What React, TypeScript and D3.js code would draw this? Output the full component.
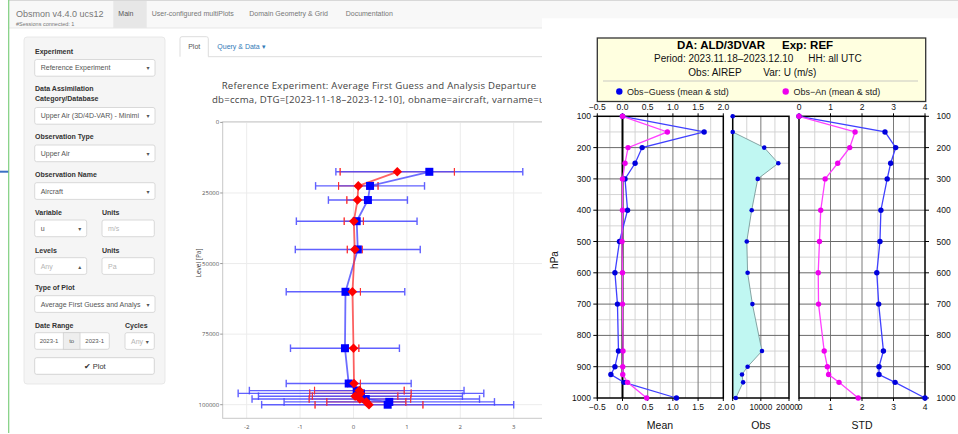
import React from 'react';
import * as d3 from 'd3';

// ---------------- Left (web app / plotly-style) chart data ----------------
const levelsPa = [17500, 22500, 27500, 35000, 45000, 60000, 80000, 92500, 95000, 96000, 97000, 98000, 99000, 100000];
const fgMean = [1.42, 0.31, 0.27, 0.06, 0.08, -0.15, -0.16, -0.09, 0.06, 0.14, 0.13, 0.23, 0.67, 0.64];
const fgStd = [1.75, 1.02, 0.74, 1.13, 1.17, 1.11, 1.02, 1.17, 2.01, 2.3, 1.91, 2.13, 1.97, 2.36];
const anMean = [0.82, 0.09, 0.075, 0.006, 0.024, -0.02, 0.0, 0.01, 0.11, 0.13, 0.03, 0.12, 0.24, 0.29];
const anStd = [1.07, 0.37, 0.2, 0.18, 0.14, 0.15, 0.1, 0.12, 0.84, 0.95, 0.8, 0.95, 0.74, 1.01];
const leftXTicks = [-2, -1, 0, 1, 2, 3];
const leftYTicks = [0, 25000, 50000, 75000, 100000];
const titleLine1 = 'Reference Experiment: Average First Guess and Analysis Departure';
const titleLine2 = 'db=ccma, DTG=[2023-11-18\u20132023-12-10], obname=aircraft, varname=u';

// ---------------- Right (R-style) chart data ----------------
const pLevels = [100, 150, 200, 250, 300, 400, 500, 600, 700, 850, 900, 925, 950, 1000];
const guessMean = [0, 1.62, 0.39, 0.25, 0.05, 0.1, -0.06, -0.15, -0.1, -0.08, -0.15, -0.23, 0.03, 1.07];
const anMeanR = [0, 0.89, 0.11, 0.05, 0.0, 0.0, -0.01, 0.0, 0.0, 0.01, 0.005, 0.005, 0.1, 0.48];
const obsCount = [0, 0, 11200, 16200, 8900, 6750, 5000, 5300, 7000, 10400, 5300, 3300, 3700, 1100];
const guessStd = [0, 2.73, 3.07, 2.91, 2.8, 2.6, 2.57, 2.47, 2.53, 2.68, 2.54, 2.54, 3.05, 4.0];
const anStdR = [0, 1.78, 1.61, 1.23, 0.83, 0.69, 0.65, 0.61, 0.62, 0.8, 0.9, 0.94, 1.27, 1.88];
const meanTicks = [-0.5, 0, 0.5, 1, 1.5, 2];
const obsTicks = [0, 10000, 20000];
const stdTicks = [0, 1, 2, 3, 4];
const hpaTicks = [100, 200, 300, 400, 500, 600, 700, 800, 900, 1000];

// ---------------- Sidebar / navbar text ----------------
const navTabs = ['Main', 'User-configured multiPlots', 'Domain Geometry & Grid', 'Documentation'];

const SANS = '"Liberation Sans", Arial, Helvetica, sans-serif';
const OPEN = '"Open Sans", verdana, arial, sans-serif';

function Select({ x, y, w, text, color = '#555', caret = '\u25BE' }: any) {
  return (
    <g>
      <rect x={x} y={y} width={w} height={16.7} rx={2} fill="#fff" stroke="#d0d0d0" strokeWidth={0.8} />
      <text x={x + 6} y={y + 10.8} fontSize={7} fill={color} fontFamily={SANS}>{text}</text>
      {caret && <text x={x + w - 8.5} y={y + 10.8} fontSize={6} fill="#555" fontFamily="DejaVu Sans">{caret}</text>}
    </g>
  );
}

function Label({ x, y, text }: any) {
  return <text x={x} y={y + 2.5} fontSize={7} fontWeight="bold" fill="#333" fontFamily={SANS}>{text}</text>;
}

export default function App() {
  // left chart scales
  const xL = d3.scaleLinear().domain([-2, 3]).range([246.7, 513.7]);
  const yL = d3.scaleLinear().domain([0, 100000]).range([122.4, 404.7]);
  const pL = { x0: 222.7, x1: 640, y0: 121.8, y1: 418.3 };
  const rowsL = levelsPa.map((p, i) => ({ p, fm: fgMean[i], fs: fgStd[i], am: anMean[i], as: anStd[i] }));
  const lineFg = d3.line<any>().x((d) => xL(d.fm)).y((d) => yL(d.p));
  const lineAn = d3.line<any>().x((d) => xL(d.am)).y((d) => yL(d.p));

  // right chart scales
  const yP = d3.scaleLinear().domain([100, 1000]).range([116.3, 398]);
  const xM = d3.scaleLinear().domain([-0.5, 2]).range([597.3, 723.3]);
  const xO = d3.scaleLinear().domain([0, 20000]).range([732.7, 789]);
  const xS = d3.scaleLinear().domain([0, 4]).range([799, 925]);
  const rowsR = pLevels.map((p, i) => ({ p, gm: guessMean[i], am: anMeanR[i], n: obsCount[i], gs: guessStd[i], as: anStdR[i] }));
  const y0 = yP(100), y1 = yP(1000);
  const minorH = d3.range(150, 1000, 100);
  const majorH = d3.range(200, 1000, 100);
  const fmt1 = d3.format('.1f');

  const gridPanel = (xs: any, minorV: number[], majorV: number[]) => {
    const [a, b] = xs.range();
    return (
      <g>
        {minorV.map((v) => <line key={'mv' + v} x1={xs(v)} x2={xs(v)} y1={y0} y2={y1} stroke="#cfcfcf" strokeWidth={0.9} />)}
        {minorH.map((v) => <line key={'mh' + v} x1={a} x2={b} y1={yP(v)} y2={yP(v)} stroke="#cfcfcf" strokeWidth={0.9} />)}
        {majorV.map((v) => <line key={'Mv' + v} x1={xs(v)} x2={xs(v)} y1={y0} y2={y1} stroke="#7a7a7a" strokeWidth={1} />)}
        {majorH.map((v) => <line key={'Mh' + v} x1={a} x2={b} y1={yP(v)} y2={yP(v)} stroke="#6a6a6a" strokeWidth={1} />)}
      </g>
    );
  };

  const lineR = (xs: any, key: string) => d3.line<any>().x((d) => xs(d[key])).y((d) => yP(d.p));
  const obsArea = d3.area<any>().x0(() => xO(0)).x1((d) => xO(d.n)).y((d) => yP(d.p));
  const obsLine = d3.line<any>().x((d) => xO(d.n)).y((d) => yP(d.p));

  const diamond = (cx: number, cy: number, r: number) => `M${cx},${cy - r}L${cx + r},${cy}L${cx},${cy + r}L${cx - r},${cy}Z`;

  return (
    <svg width={958} height={434} style={{ position: 'fixed', left: 0, top: 0 }} xmlns="http://www.w3.org/2000/svg">
      <rect x={0} y={0} width={958} height={434} fill="#fff" />

      {/* ---------- navbar ---------- */}
      <rect x={9} y={0} width={949} height={28} fill="#f8f8f8" />
      <line x1={9} x2={958} y1={0.5} y2={0.5} stroke="#d8d8d8" />
      <line x1={9} x2={958} y1={28} y2={28} stroke="#e7e7e7" />
      <rect x={113.3} y={1} width={33.4} height={27} fill="#e7e7e7" />
      <text x={16} y={16.5} fontSize={9} fill="#777" fontFamily={SANS}>Obsmon v4.4.0 ucs12</text>
      <text x={16} y={25.5} fontSize={5.5} fill="#777" fontFamily={SANS}>#Sessions connected: 1</text>
      {navTabs.map((t, i) => (
        <text key={t} x={[118.3, 151.7, 249.3, 345.7][i]} y={16} fontSize={7} fill={i === 0 ? '#555' : '#777'} fontFamily={SANS}>{t}</text>
      ))}
      <line x1={8.7} x2={8.7} y1={0} y2={433} stroke="#7fcf7f" strokeWidth={1.2} />
      <line x1={0} x2={8.3} y1={171.7} y2={171.7} stroke="#3a70c4" strokeWidth={2} />

      {/* ---------- sidebar well ---------- */}
      <rect x={24} y={37} width={141} height={347} rx={3} fill="#f5f5f5" stroke="#e3e3e3" strokeWidth={0.8} />
      <Label x={35} y={51.5} text="Experiment" />
      <Select x={34.7} y={59.5} w={120.3} text="Reference Experiment" />
      <Label x={35} y={88.8} text="Data Assimilation" />
      <Label x={35} y={98.8} text="Category/Database" />
      <Select x={34.7} y={107.5} w={120.3} text="Upper Air (3D/4D-VAR) - Minimi" />
      <Label x={35} y={136.7} text="Observation Type" />
      <Select x={34.7} y={145} w={120.3} text="Upper Air" />
      <Label x={35} y={174.3} text="Observation Name" />
      <Select x={34.7} y={182.7} w={120.3} text="Aircraft" />
      <Label x={35} y={212} text="Variable" />
      <Label x={102} y={212} text="Units" />
      <Select x={34.7} y={220} w={52} text="u" />
      <Select x={102} y={220} w={52.3} text="m/s" color="#b5b5b5" caret="" />
      <Label x={35} y={250} text="Levels" />
      <Label x={102} y={250} text="Units" />
      <Select x={34.7} y={257.7} w={52} text="Any" color="#b5b5b5" caret={'\u25B4'} />
      <Select x={102} y={257.7} w={52.3} text="Pa" color="#b5b5b5" caret="" />
      <Label x={35} y={287.7} text="Type of Plot" />
      <Select x={34.7} y={295.7} w={120.3} text="Average First Guess and Analys" />
      <Label x={35} y={325} text="Date Range" />
      <Label x={125} y={325} text="Cycles" />
      <rect x={34.7} y={332.7} width={74.6} height={16.6} rx={2} fill="#fff" stroke="#d0d0d0" strokeWidth={0.8} />
      <rect x={63.3} y={332.7} width={16.7} height={16.6} fill="#eee" stroke="#d0d0d0" strokeWidth={0.8} />
      <text x={49} y={343} fontSize={6} fill="#555" textAnchor="middle" fontFamily={SANS}>2023-1</text>
      <text x={71.7} y={343} fontSize={6} fill="#555" textAnchor="middle" fontFamily={SANS}>to</text>
      <text x={94.7} y={343} fontSize={6} fill="#555" textAnchor="middle" fontFamily={SANS}>2023-1</text>
      <Select x={125} y={332.7} w={29.3} text="Any" color="#b5b5b5" />
      <rect x={34.7} y={357.7} width={119.6} height={16.6} rx={2} fill="#fff" stroke="#ccc" strokeWidth={0.8} />
      <text x={94.7} y={368.5} fontSize={7.5} fill="#333" textAnchor="middle" fontFamily={SANS}>{'\u2714 Plot'}</text>

      {/* ---------- plot tabs ---------- */}
      <line x1={208} x2={560} y1={56.7} y2={56.7} stroke="#ddd" />
      <path d="M180,56.7 L180,38.7 Q180,36.7 182,36.7 L206.3,36.7 Q208.3,36.7 208.3,38.7 L208.3,56.7" fill="#fff" stroke="#ddd" />
      <text x={194.2} y={49.2} fontSize={7} fill="#555" textAnchor="middle" fontFamily={SANS}>Plot</text>
      <text x={217.3} y={49.2} fontSize={7} fill="#337ab7" fontFamily={SANS}>{'Query & Data \u25BE'}</text>

      {/* ---------- left plotly-like chart ---------- */}
      <text x={221.7} y={89.4} fontSize={9.6} letterSpacing={0.25} fill="#444" fontFamily={OPEN}>{titleLine1}</text>
      <text x={212} y={102.6} fontSize={9.6} letterSpacing={0.25} fill="#444" fontFamily={OPEN}>{titleLine2}</text>
      <rect x={pL.x0} y={pL.y0} width={pL.x1 - pL.x0} height={pL.y1 - pL.y0} fill="#fff" />
      {leftXTicks.map((t) => <line key={'gx' + t} x1={xL(t)} x2={xL(t)} y1={pL.y0} y2={pL.y1} stroke="#ececec" />)}
      {leftYTicks.map((t) => <line key={'gy' + t} x1={pL.x0} x2={pL.x1} y1={yL(t)} y2={yL(t)} stroke="#ececec" />)}
      <rect x={pL.x0} y={pL.y0} width={pL.x1 - pL.x0} height={pL.y1 - pL.y0} fill="none" stroke="#c8c8c8" strokeWidth={1} />
      {leftYTicks.map((t) => (
        <g key={'ty' + t}>
          <line x1={pL.x0 - 2.5} x2={pL.x0} y1={yL(t)} y2={yL(t)} stroke="#999" />
          <text x={pL.x0 - 3.5} y={yL(t) + 2} fontSize={6} fill="#555" textAnchor="end" fontFamily={OPEN}>{t}</text>
        </g>
      ))}
      {leftXTicks.map((t) => (
        <text key={'tx' + t} x={xL(t)} y={428.8} fontSize={6} fill="#555" textAnchor="middle" fontFamily={OPEN}>{t}</text>
      ))}
      <text transform="translate(200.5,263) rotate(-90)" fontSize={6.5} fill="#444" textAnchor="middle" fontFamily={OPEN}>Level [Pa]</text>

      {/* red error bars */}
      {rowsL.map((d, i) => (
        <g key={'re' + i} stroke="#ff2a2a" strokeWidth={1.1} opacity={0.85}>
          <line x1={xL(d.am - d.as)} x2={xL(d.am + d.as)} y1={yL(d.p)} y2={yL(d.p)} />
          <line x1={xL(d.am - d.as)} x2={xL(d.am - d.as)} y1={yL(d.p) - 3.8} y2={yL(d.p) + 3.8} />
          <line x1={xL(d.am + d.as)} x2={xL(d.am + d.as)} y1={yL(d.p) - 3.8} y2={yL(d.p) + 3.8} />
        </g>
      ))}
      {/* blue error bars */}
      {rowsL.map((d, i) => (
        <g key={'be' + i} stroke="#4646ff" strokeWidth={1.4} opacity={0.85}>
          <line x1={xL(d.fm - d.fs)} x2={xL(d.fm + d.fs)} y1={yL(d.p)} y2={yL(d.p)} />
          <line x1={xL(d.fm - d.fs)} x2={xL(d.fm - d.fs)} y1={yL(d.p) - 3.8} y2={yL(d.p) + 3.8} />
          <line x1={xL(d.fm + d.fs)} x2={xL(d.fm + d.fs)} y1={yL(d.p) - 3.8} y2={yL(d.p) + 3.8} />
        </g>
      ))}
      {/* red caps drawn again over blue bars */}
      {rowsL.map((d, i) => (
        <g key={'rc' + i} stroke="#ff2a2a" strokeWidth={1.1} opacity={0.8}>
          <line x1={xL(d.am - d.as)} x2={xL(d.am - d.as)} y1={yL(d.p) - 3.8} y2={yL(d.p) + 3.8} />
          <line x1={xL(d.am + d.as)} x2={xL(d.am + d.as)} y1={yL(d.p) - 3.8} y2={yL(d.p) + 3.8} />
        </g>
      ))}
      <path d={lineFg(rowsL) || ''} fill="none" stroke="#3c3cff" strokeWidth={1.8} opacity={0.75} />
      <path d={lineAn(rowsL) || ''} fill="none" stroke="#ff3030" strokeWidth={1.8} opacity={0.75} />
      {rowsL.map((d, i) => (
        <rect key={'bs' + i} x={xL(d.fm) - 4} y={yL(d.p) - 4} width={8} height={8} fill="#0000ff" />
      ))}
      {rowsL.map((d, i) => (
        <path key={'rd' + i} d={diamond(xL(d.am), yL(d.p), 4.8)} fill="#ff0000" />
      ))}

      {/* ---------- right R-style overlay ---------- */}
      <rect x={542} y={18.3} width={416} height={416} fill="#fff" />

      {/* header box */}
      <rect x={597.3} y={38} width={328.4} height={63.5} fill="#ffffe0" stroke="#333" strokeWidth={1.3} />
      <text x={677} y={49.2} fontSize={11.5} fontWeight="bold" fill="#000" fontFamily={SANS}>DA: ALD/3DVAR</text>
      <text x={782} y={49.2} fontSize={11.5} fontWeight="bold" fill="#000" fontFamily={SANS}>Exp: REF</text>
      <text x={654} y={61.5} fontSize={10} fill="#111" fontFamily={SANS}>{'Period: 2023.11.18\u20132023.12.10'}</text>
      <text x={808.3} y={61.5} fontSize={10} fill="#111" fontFamily={SANS}>HH: all UTC</text>
      <text x={688.3} y={75.5} fontSize={10} fill="#111" fontFamily={SANS}>Obs: AIREP</text>
      <text x={763.3} y={75.5} fontSize={10} fill="#111" fontFamily={SANS}>Var: U (m/s)</text>
      <line x1={603} x2={918} y1={81} y2={81} stroke="#bbb" strokeWidth={0.8} />
      <circle cx={619.3} cy={91.5} r={3.2} fill="#0000ee" />
      <text x={627} y={94.6} fontSize={9} fill="#222" fontFamily={SANS}>{'Obs\u2212Guess (mean & std)'}</text>
      <circle cx={785.7} cy={91.5} r={3.2} fill="#ee00ee" />
      <text x={793.5} y={94.6} fontSize={9} fill="#222" fontFamily={SANS}>{'Obs\u2212An (mean & std)'}</text>

      {/* Mean panel */}
      {gridPanel(xM, [-0.25, 0.25, 0.75, 1.25, 1.75], [0.5, 1, 1.5])}
      <line x1={xM(0)} x2={xM(0)} y1={y0} y2={y1} stroke="#000" strokeWidth={2} />
      {/* Obs panel */}
      {gridPanel(xO, [5000, 15000], [10000])}
      <path d={obsArea(rowsR) || ''} fill="#c0f7f2" />
      <path d={obsLine(rowsR) || ''} fill="none" stroke="#7a9a9a" strokeWidth={0.9} />
      {/* STD panel */}
      {gridPanel(xS, [0.5, 1.5, 2.5, 3.5], [1, 2, 3])}

      {/* panel borders + ticks */}
      {[xM, xO, xS].map((xs, k) => {
        const [a, b] = xs.range();
        return <rect key={'pb' + k} x={a} y={y0} width={b - a} height={y1 - y0} fill="none" stroke="#000" strokeWidth={1.5} />;
      })}
      {hpaTicks.map((t) => (
        <g key={'hy' + t}>
          <line x1={xM(-0.5) - 4} x2={xM(-0.5)} y1={yP(t)} y2={yP(t)} stroke="#000" />
          <line x1={xS(4)} x2={xS(4) + 4} y1={yP(t)} y2={yP(t)} stroke="#000" />
          <text x={591} y={yP(t) + 3} fontSize={8.5} textAnchor="end" fill="#111" fontFamily={SANS}>{t}</text>
          <text x={936.5} y={yP(t) + 3} fontSize={8.5} fill="#111" fontFamily={SANS}>{t}</text>
        </g>
      ))}
      {meanTicks.map((t) => (
        <g key={'mt' + t}>
          <line x1={xM(t)} x2={xM(t)} y1={y0 - 3} y2={y0} stroke="#000" />
          <line x1={xM(t)} x2={xM(t)} y1={y1} y2={y1 + 3} stroke="#000" />
          <text x={xM(t)} y={109.8} fontSize={8.5} textAnchor="middle" fill="#111" fontFamily={SANS}>{fmt1(t)}</text>
          <text x={xM(t)} y={409.6} fontSize={8.5} textAnchor="middle" fill="#111" fontFamily={SANS}>{fmt1(t)}</text>
        </g>
      ))}
      {obsTicks.map((t) => (
        <g key={'ot' + t}>
          <line x1={xO(t)} x2={xO(t)} y1={y1} y2={y1 + 3} stroke="#000" />
          <text x={xO(t) - (t === 20000 ? 1.5 : 0)} y={409.6} fontSize={8.2} textAnchor="middle" fill="#111" fontFamily={SANS}>{t}</text>
        </g>
      ))}
      {stdTicks.map((t) => (
        <g key={'st' + t}>
          <line x1={xS(t)} x2={xS(t)} y1={y0 - 3} y2={y0} stroke="#000" />
          <line x1={xS(t)} x2={xS(t)} y1={y1} y2={y1 + 3} stroke="#000" />
          <text x={xS(t)} y={109.8} fontSize={8.5} textAnchor="middle" fill="#111" fontFamily={SANS}>{t}</text>
          <text x={xS(t) + (t === 0 ? 1 : 0)} y={409.6} fontSize={8.5} textAnchor="middle" fill="#111" fontFamily={SANS}>{t}</text>
        </g>
      ))}

      {/* series lines and points */}
      <path d={lineR(xM, 'gm')(rowsR) || ''} fill="none" stroke="#4040ff" strokeWidth={1.3} />
      <path d={lineR(xM, 'am')(rowsR) || ''} fill="none" stroke="#ff40ff" strokeWidth={1.3} />
      <path d={lineR(xS, 'gs')(rowsR) || ''} fill="none" stroke="#4040ff" strokeWidth={1.3} />
      <path d={lineR(xS, 'as')(rowsR) || ''} fill="none" stroke="#ff40ff" strokeWidth={1.3} />
      {rowsR.map((d, i) => (
        <g key={'pt' + i}>
          <circle cx={xM(d.gm)} cy={yP(d.p)} r={2.7} fill="#0000dd" />
          <circle cx={xM(d.am)} cy={yP(d.p)} r={2.7} fill="#ee00ee" />
          <circle cx={xO(d.n)} cy={yP(d.p)} r={2.3} fill="#0000dd" />
          <circle cx={xS(d.gs)} cy={yP(d.p)} r={2.7} fill="#0000dd" />
          <circle cx={xS(d.as)} cy={yP(d.p)} r={2.7} fill="#ee00ee" />
        </g>
      ))}

      {/* axis titles */}
      <text x={660} y={428.8} fontSize={10.5} textAnchor="middle" fill="#111" fontFamily={SANS}>Mean</text>
      <text x={761} y={428.8} fontSize={10.5} textAnchor="middle" fill="#111" fontFamily={SANS}>Obs</text>
      <text x={862} y={428.8} fontSize={10.5} textAnchor="middle" fill="#111" fontFamily={SANS}>STD</text>
      <text transform="translate(558,260) rotate(-90)" fontSize={10} textAnchor="middle" fill="#111" fontFamily={SANS}>hPa</text>
    </svg>
  );
}
